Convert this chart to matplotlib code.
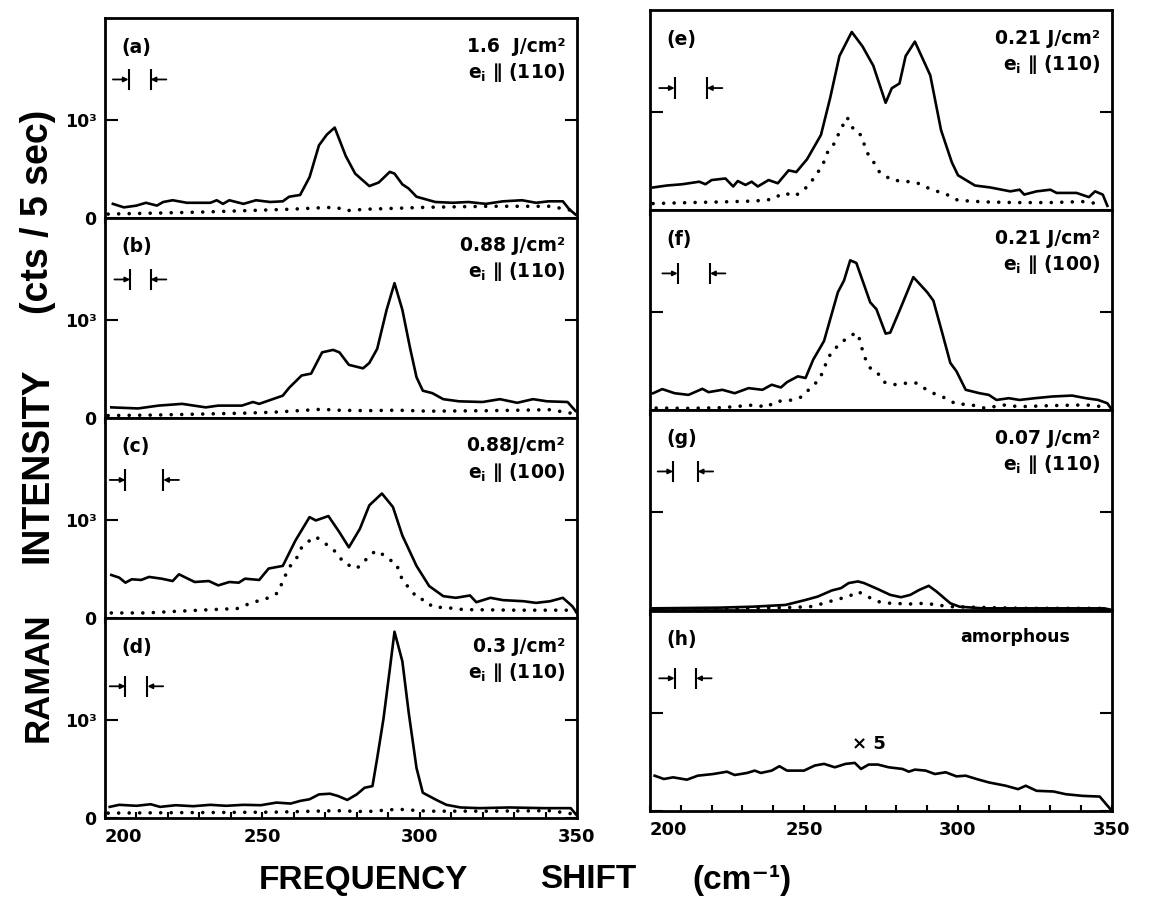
import matplotlib
matplotlib.use('Agg')
import matplotlib.pyplot as plt

plt.rcParams['font.family'] = ['DejaVu Sans']
plt.rcParams['font.weight'] = 'bold'
plt.rcParams['mathtext.default'] = 'bf'

# ---- spectra (frequency shift in cm-1, counts per 5 s) ----
# (a) 1.6 J/cm2, e_i || (110)
a_x = [202.5, 206, 210, 213, 216.5, 218.5, 221.5, 226, 233.5, 235.5, 237.5, 239.5, 244, 248,
       252.5, 256.5, 258.5, 262, 265, 268, 270.5, 273, 276.5, 279.5, 284, 287, 290.5, 292,
       294.5, 296.5, 299, 305, 310.5, 315.5, 321, 326.5, 332.5, 337, 341, 345.5, 347.5, 349.5]
a_y = [145, 109, 127, 156, 127, 164, 182, 156, 156, 182, 145, 182, 145, 182,
       164, 171, 218, 236, 418, 745, 855, 927, 636, 455, 327, 364, 473, 455,
       345, 302, 218, 164, 156, 164, 145, 171, 182, 156, 171, 171, 91, 36]
a_dx = [201, 215.5, 230, 244.5, 259, 268.5, 273.5, 276.5, 283, 293, 302.5, 322, 341.5, 348]
a_dy = [40, 50, 60, 75, 90, 105, 110, 75, 90, 100, 110, 120, 120, 80]

# (b) 0.88 J/cm2, e_i || (110)
b_x = [202, 210.5, 217, 224.5, 232, 236, 243.5, 247, 249, 256.5, 258.5, 262.5, 265.5, 269,
       272.5, 274.5, 277.5, 282, 284, 286.5, 289.5, 292, 294.5, 297, 299, 301, 304, 307.5,
       312.5, 320, 325.5, 331, 336, 340.5, 347, 349.5]
b_y = [109, 98, 127, 145, 109, 127, 127, 164, 145, 229, 309, 436, 455, 673,
       698, 673, 545, 509, 564, 709, 1109, 1382, 1109, 709, 418, 280, 255, 193,
       171, 164, 193, 156, 193, 171, 164, 73]
b_dx = [201, 215.5, 230, 244.5, 254, 264, 269, 273.5, 283, 293, 302.5, 322, 341.5, 348]
b_dy = [25, 30, 40, 50, 60, 80, 90, 80, 75, 80, 70, 75, 85, 50]

# (c) 0.88 J/cm2, e_i || (100)
c_x = [202, 204.5, 206.5, 208.5, 211.5, 214, 218, 221.5, 223.5, 228.5, 233, 236, 239.5, 242.5,
       244.5, 249, 252, 256.5, 260.5, 265, 267, 271, 274.5, 277.5, 281, 284, 288, 291.5,
       294.5, 299, 303, 307.5, 311.5, 316, 318, 322.5, 326.5, 333, 337, 341.5, 345.5, 348.5, 350]
c_y = [441, 414, 362, 397, 390, 421, 403, 379, 448, 369, 379, 334, 369, 362,
       403, 390, 507, 534, 793, 1034, 1000, 1045, 879, 724, 914, 1155, 1276, 1138,
       845, 534, 328, 224, 207, 231, 162, 207, 183, 172, 155, 172, 207, 121, 52]
c_dx = [202, 213, 223, 234, 242, 246.5, 252, 255, 256.5, 258.5, 261, 262.5, 265, 267, 269,
        271, 273.5, 276, 280, 282.5, 286, 289, 291, 292.5, 294.5, 297, 299.5, 302, 304,
        309.5, 314, 331.5, 348, 350]
c_dy = [52, 52, 69, 86, 97, 155, 207, 259, 379, 517, 621, 724, 793, 834, 783,
        741, 672, 562, 507, 586, 690, 638, 586, 562, 390, 293, 197, 183, 114,
        103, 86, 80, 80, 60]

# (d) 0.3 J/cm2, e_i || (110)
d_x = [201.5, 204.5, 210, 214.5, 217.5, 222.5, 228, 233.5, 238.5, 244, 249.5, 254.5, 259, 262,
       265, 268, 271.5, 274, 277, 280, 282.5, 285, 286.5, 288.5, 290.5, 292, 294.5, 296.5,
       299, 301, 305.5, 308.5, 313, 319, 328.5, 339.5, 348, 350]
d_y = [114, 135, 125, 141, 114, 131, 121, 135, 125, 135, 131, 158, 148, 175,
       192, 242, 249, 226, 185, 242, 310, 327, 613, 1017, 1522, 1909, 1606, 1084,
       512, 259, 182, 135, 108, 101, 108, 101, 101, 24]
d_dx = [201, 225, 254, 273.5, 283, 293, 302.5, 322, 341.5, 349]
d_dy = [50, 55, 60, 75, 65, 90, 70, 70, 75, 40]

# (e) 0.21 J/cm2, e_i || (110)
e_x = [201, 205.5, 210.5, 216, 218, 220, 224.5, 227, 228.5, 231, 233, 235, 238.5, 241.5, 245,
       247.5, 251, 255.5, 258.5, 261.5, 265.5, 269, 272.5, 276.5, 278.5, 281, 283, 286, 291,
       294.5, 298, 300, 305.5, 310.5, 317, 320, 321.5, 325.5, 330, 332, 338.5, 342.5, 344.5,
       347, 348.5]
e_y = [231, 251, 264, 290, 264, 307, 323, 241, 297, 257, 290, 241, 307, 274, 406,
       389, 521, 769, 1149, 1578, 1825, 1677, 1479, 1099, 1248, 1297, 1578, 1726, 1380,
       818, 488, 356, 251, 231, 191, 208, 158, 191, 208, 175, 175, 132, 191,
       158, 43]
e_dx = [201, 213, 223.5, 234, 239.5, 243.5, 247, 250, 252, 256, 258, 260, 261.5, 264, 266.5,
        268.5, 270.5, 273, 274.5, 278.5, 284, 287, 291.5, 296, 300, 308.5, 319, 329.5, 340.5, 347]
e_dy = [66, 76, 83, 92, 109, 175, 142, 208, 274, 455, 620, 686, 802, 950, 802,
        769, 587, 472, 389, 307, 290, 274, 208, 165, 99, 83, 76, 76, 86, 59]

# (f) 0.21 J/cm2, e_i || (100)
f_x = [201, 204, 208, 212.5, 217, 219, 223.5, 227.5, 232, 236.5, 239.5, 242.5, 244.5, 248,
       250.5, 253, 256.5, 261, 263, 265, 267, 271.5, 273.5, 276.5, 278, 281, 285.5, 290, 292,
       295, 297.5, 299.5, 302.5, 307, 310, 312.5, 316.5, 320, 325, 330.5, 337, 341.5, 345.5,
       348.5, 350]
f_y = [172, 214, 172, 155, 217, 183, 207, 172, 224, 207, 259, 231, 286, 345,
       328, 517, 707, 1207, 1328, 1534, 1507, 1103, 1034, 783, 793, 1017, 1362, 1207, 1121,
       776, 483, 397, 207, 172, 155, 103, 121, 103, 121, 138, 148, 121, 103,
       69, 0]
f_dx = [202, 212.5, 223.5, 234, 238, 240.5, 246.5, 249.5, 252.5, 255, 257, 258.5, 261.5,
        263.5, 266, 267.5, 269.5, 271.5, 273.5, 276, 279, 283.5, 286.5, 289, 292, 296, 299.5,
        303.5, 309, 314.5, 320, 330.5, 341.5, 347]
f_dy = [20, 17, 24, 52, 28, 86, 103, 138, 241, 310, 466, 569, 679,
        724, 776, 786, 552, 431, 397, 286, 259, 276, 276, 224, 172, 121, 59,
        59, 17, 52, 34, 45, 52, 34]

# (g) 0.07 J/cm2, e_i || (110)
g_x = [201, 222.5, 233.5, 244, 250.5, 254.5, 259, 262, 264.5, 267.5, 269.5, 274, 278, 281.5,
       284.5, 287.5, 290.5, 293, 297.5, 300.5, 308, 329, 347.5, 350]
g_y = [17, 24, 34, 52, 103, 138, 200, 224, 276, 293, 276, 214, 155, 131,
       155, 207, 248, 190, 69, 34, 17, 17, 17, 0]
g_dx = [201, 225, 244.5, 252, 256.5, 260, 264.5, 267.5, 269.5, 274, 278, 284.5, 289.5, 293,
        297.5, 322, 348]
g_dy = [10, 15, 25, 34, 69, 103, 138, 190, 155, 86, 69, 62, 69, 52,
        34, 17, 17]

# (h) amorphous, x5
h_x = [201.5, 204.5, 207.5, 212, 215.5, 220.5, 225, 227.5, 231.5, 234, 236, 239.5, 242, 244.5,
       250, 253.5, 256.5, 260, 263.5, 266.5, 268.5, 271, 274, 277.5, 282, 284, 286, 289.5,
       292.5, 296, 299.5, 302.5, 306, 310, 315.5, 319.5, 322, 325.5, 331, 335, 340.5, 346, 350]
h_y = [362, 328, 345, 321, 362, 379, 403, 369, 390, 414, 390, 414, 459, 414,
       414, 466, 483, 448, 483, 493, 431, 476, 476, 448, 431, 403, 424, 414,
       379, 397, 355, 362, 328, 293, 259, 224, 259, 207, 200, 172, 155, 148, 0]

panel_labels = ['(a)', '(b)', '(c)', '(d)', '(e)', '(f)', '(g)', '(h)']
fluences = ['1.6  J/cm²', '0.88 J/cm²', '0.88J/cm²', '0.3 J/cm²',
            '0.21 J/cm²', '0.21 J/cm²', '0.07 J/cm²', 'amorphous']
orients = ['(110)', '(110)', '(100)', '(110)', '(110)', '(100)', '(110)', None]
# spectral resolution (slit) edges and the height they are drawn at
slit_x = [[207.5, 214.5], [208, 214.5], [206.5, 218.5], [206.5, 213.5],
          [208, 218.5], [209, 219.5], [207.5, 215.5], [208, 215]]
slit_y = [1420, 1420, 1415, 1350, 1250, 1400, 1420, 1360]

solids = [(a_x, a_y), (b_x, b_y), (c_x, c_y), (d_x, d_y),
          (e_x, e_y), (f_x, f_y), (g_x, g_y), (h_x, h_y)]
dots = [(a_dx, a_dy), (b_dx, b_dy), (c_dx, c_dy), (d_dx, d_dy),
        (e_dx, e_dy), (f_dx, f_dy), (g_dx, g_dy), None]

W, H = 1158, 898
fig = plt.figure(figsize=(W / 100, H / 100), dpi=100)

# panel boxes in pixels: (left, top, width, height)
boxes = []
for top in [18, 218, 418, 618]:
    boxes.append((105, top, 472, 200))
for top in [10, 210, 410, 611]:
    boxes.append((650, top, 462, 200))


def draw_slit(ax, xs, y):
    x1, x2 = xs
    ax.vlines([x1, x2], y - 110, y + 110, color='k', lw=1.5)
    arrow = dict(arrowstyle='-|>', color='k', lw=1.3, mutation_scale=7, shrinkA=0, shrinkB=0)
    ax.annotate('', xy=(x1, y), xytext=(x1 - 5, y), arrowprops=arrow)
    ax.annotate('', xy=(x2, y), xytext=(x2 + 5, y), arrowprops=arrow)


axes = []
for i in range(8):
    l, t, w, h = boxes[i]
    ax = fig.add_axes([l / W, 1 - (t + h) / H, w / W, h / H])
    axes.append(ax)
    left_col = i < 4
    bottom_row = i in (3, 7)

    x, y = solids[i]
    ax.plot(x, y, color='k', lw=1.9)
    if dots[i] is not None:
        dx, dy = dots[i]
        ax.plot(dx, dy, color='k', lw=2.6, linestyle=(0, (0.01, 2.9)),
                dash_capstyle='round')

    ax.set_xlim(200, 350)
    ax.set_ylim(0, 2050)
    for s in ax.spines.values():
        s.set_linewidth(2.0)

    ax.set_xticks([200, 250, 300, 350])
    ax.set_xticks(range(210, 350, 10), minor=True)
    ax.tick_params(axis='x', which='both', direction='in' if bottom_row else 'out',
                   length=4, width=1.5, labelsize=13, pad=7)
    if bottom_row:
        ax.set_xticklabels(['200', '250', '300', '350'])
        ax.get_xticklabels()[0].set_ha('left')
    else:
        ax.tick_params(axis='x', labelbottom=False)

    ax.set_yticks([0, 1000])
    ax.tick_params(axis='y', which='major', left=True, right=True, direction='in',
                   length=9, width=1.5, labelsize=12.5, pad=6)
    if left_col:
        ax.set_yticklabels(['0', '10³'])
    else:
        ax.tick_params(axis='y', labelleft=False)

    ax.text(0.035, 0.855, panel_labels[i], transform=ax.transAxes,
            ha='left', va='center', fontsize=13.5)
    if orients[i] is not None:
        ax.text(0.975, 0.86, fluences[i], transform=ax.transAxes,
                ha='right', va='center', fontsize=13.5)
        ax.text(0.975, 0.73, 'e$_\\mathbf{i}$ ∥ ' + orients[i], transform=ax.transAxes,
                ha='right', va='center', fontsize=13.5)
    else:
        ax.text(0.91, 0.87, fluences[i], transform=ax.transAxes,
                ha='right', va='center', fontsize=12.5)

    draw_slit(ax, slit_x[i], slit_y[i])

axes[7].text(271, 683, '× 5', ha='center', va='center', fontsize=13)

lab_font = ['Liberation Sans', 'DejaVu Sans']
fig.text(363 / W, 1 - 880 / H, 'FREQUENCY', ha='center', va='center',
         fontsize=24, family=lab_font, weight='bold')
fig.text(588 / W, 1 - 880 / H, 'SHIFT', ha='center', va='center',
         fontsize=24, family=lab_font, weight='bold')
fig.text(742 / W, 1 - 880 / H, '(cm⁻¹)', ha='center', va='center',
         fontsize=24, family=lab_font, weight='bold')

# vertical axis title, three words placed as in the original
fig.text(38 / W, 1 - 677 / H, 'RAMAN', rotation=90, ha='center', va='center',
         fontsize=25, family=lab_font, weight='bold')
fig.text(38 / W, 1 - 465 / H, 'INTENSITY', rotation=90, ha='center', va='center',
         fontsize=27, family=lab_font, weight='bold')
fig.text(38 / W, 1 - 212 / H, '(cts / 5 sec)', rotation=90, ha='center', va='center',
         fontsize=27, family=lab_font, weight='bold')

fig.savefig('out.png', dpi=100)
